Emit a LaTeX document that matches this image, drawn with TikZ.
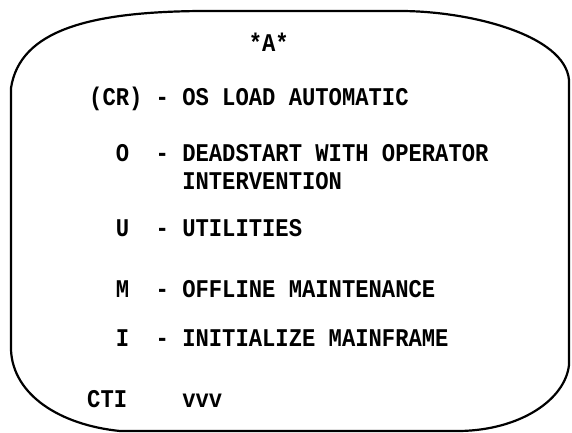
\documentclass[tikz,border=0pt]{standalone}
\usepackage{fontspec}
\newfontfamily\crtfont{Liberation Mono}[FakeStretch=0.87]

\tikzset{
  menu/.style={anchor=base west, inner sep=0pt, font=\crtfont\bfseries\fontsize{25.5}{28}\selectfont},
  screen/.style={line width=2.2pt, line join=round}
}

\begin{document}
\begin{tikzpicture}[x=1pt, y=-1pt]
  \useasboundingbox (0,0) rectangle (572,433);

  % Screen outline
  \draw[screen] (11,88) .. controls (20,30) and (90,12) .. (200,11)
    -- (400,11) .. controls (470,11) and (565,35) .. (569,80)
    -- (569,365) .. controls (565,400) and (520,430) .. (460,431)
    -- (120,431) .. controls (60,425) and (13,395) .. (11,350) -- cycle;

  % Character cells: column n starts at 89 + 13.3n
  \node[menu] (title) at ({89+12*13.3}, 52) {*A*};

  \foreach \name/\mkey/\kc/\y/\mtext in {cr/(CR)/0/106/OS LOAD AUTOMATIC,
      o/O/2/161/DEADSTART WITH OPERATOR,
      u/U/2/236/UTILITIES,
      m/M/2/297/OFFLINE MAINTENANCE,
      i/I/2/346/INITIALIZE MAINFRAME} {
    \node[menu] (key-\name) at ({89+13.3*\kc}, \y) {\mkey};
    \node[menu] (dash-\name) at ({89+13.3*5}, \y) {-};
    \node[menu] (item-\name) at ({89+13.3*7}, \y) {\mtext};
  }
  \node[menu] (item-o2) at ({89+13.3*7}, 189) {INTERVENTION};

  % Status line
  \node[menu] (cti) at (87, 407) {CTI};
  \node[menu] (vvv) at ({89+13.3*7}, 407) {vvv};
\end{tikzpicture}
\end{document}
